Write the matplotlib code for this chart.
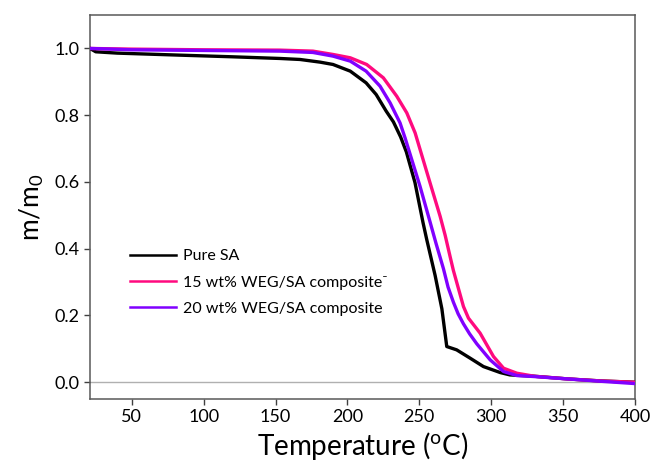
import matplotlib
matplotlib.use("Agg")
import matplotlib.pyplot as plt
from matplotlib.lines import Line2D

plt.rcParams['font.family'] = ['Lato', 'DejaVu Sans']

# TGA curves
temp_pure = [21, 25, 40, 83, 120, 153, 167, 181, 190, 202, 213, 220, 227, 232, 237, 241,
             247, 252.6, 255.2, 261, 265.7, 269.1, 276, 285.4, 294.6, 306.3, 313, 330, 353,
             376, 400]
mass_pure = [1.0, 0.99, 0.986, 0.98, 0.975, 0.97, 0.967, 0.959, 0.952, 0.932, 0.897, 0.862,
             0.812, 0.78, 0.735, 0.69, 0.598, 0.478, 0.427, 0.32, 0.22, 0.107, 0.097,
             0.072, 0.047, 0.029, 0.022, 0.018, 0.01, 0.004, 0.0]

temp_15 = [21, 50, 100, 153, 176, 190, 202, 213.4, 225, 234.3, 241.3, 247.1, 257.5, 264.5,
           268, 271.5, 273.7, 280.7, 284.2, 292.3, 301.6, 308.6, 317.9, 330, 353, 376, 400]
mass_15 = [1.0, 0.998, 0.996, 0.995, 0.992, 0.982, 0.972, 0.952, 0.912, 0.857, 0.807, 0.747,
           0.597, 0.497, 0.44, 0.375, 0.335, 0.227, 0.192, 0.147, 0.077, 0.042, 0.027, 0.018,
           0.01, 0.004, 0.0]

temp_20 = [21, 50, 100, 153, 176, 190, 202, 213, 222.7, 229.7, 236.6, 240.1, 250.5, 257.5,
           261.7, 266.8, 270, 273.7, 277, 280.7, 285, 290, 299.3, 308.6, 317.9, 330, 353, 376,
           400]
mass_20 = [1.0, 0.996, 0.994, 0.992, 0.988, 0.977, 0.962, 0.932, 0.887, 0.837, 0.777, 0.732,
           0.587, 0.48, 0.415, 0.34, 0.285, 0.24, 0.205, 0.175, 0.145, 0.115, 0.067, 0.032,
           0.02, 0.017, 0.01, 0.003, -0.004]

labels = ['Pure SA', '15 wt% WEG/SA composite\u207b', '20 wt% WEG/SA composite']
colors = ['black', '#ff0a7f', '#8000ff']

fig = plt.figure(figsize=(6.57, 4.71), dpi=100)
ax = fig.add_axes([0.137, 0.153, 0.8295, 0.815])

# zero reference line
ax.axhline(0, color='#b0b0b0', linewidth=1, zorder=1)

ax.plot(temp_pure, mass_pure, color=colors[0], linewidth=2.4, zorder=3)
ax.plot(temp_15, mass_15, color=colors[1], linewidth=2.4, zorder=4)
ax.plot(temp_20, mass_20, color=colors[2], linewidth=2.4, zorder=5)

ax.set_xlim(21, 400)
ax.set_ylim(-0.05, 1.10)
ax.set_xticks([50, 100, 150, 200, 250, 300, 350, 400])
ax.set_yticks([0.0, 0.2, 0.4, 0.6, 0.8, 1.0])
ax.set_yticklabels(['0.0', '0.2', '0.4', '0.6', '0.8', '1.0'])
ax.tick_params(direction='out', length=4, width=1, colors='#404040', labelsize=13,
               labelcolor='black', top=False, right=False)

for side in ['left', 'bottom', 'top', 'right']:
    ax.spines[side].set_color('#595959')
    ax.spines[side].set_linewidth(1.1)

ax.set_xlabel('Temperature ($\\mathregular{^{o}}$C)', fontsize=20, labelpad=3)
ax.set_ylabel('m/m$\\mathregular{_0}$', fontsize=19, labelpad=6)

# legend with thinner lines than the curves
handles = [Line2D([], [], color=c, linewidth=1.8) for c in colors]
ax.legend(handles, labels, loc='upper left', bbox_to_anchor=(0.073, 0.39),
          frameon=False, handlelength=2.9, handletextpad=0.45,
          labelspacing=0.75, borderpad=0, borderaxespad=0,
          prop={'family': ['Lato', 'DejaVu Sans'], 'size': 11.5})

fig.savefig('out.png', dpi=100)
